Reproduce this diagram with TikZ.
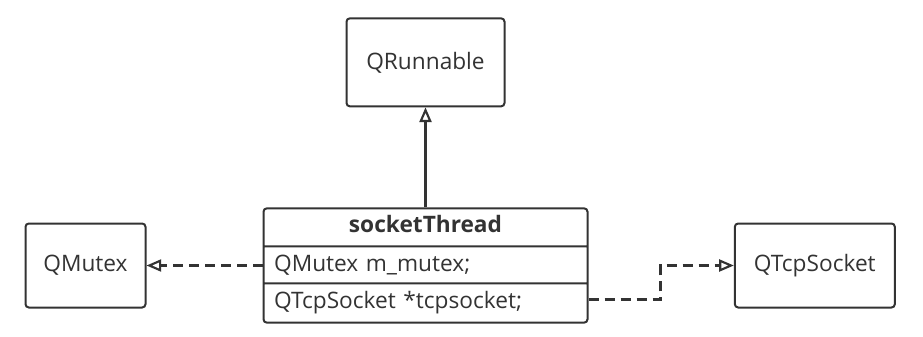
\documentclass[tikz,border=0pt]{standalone}
\usepackage{fontspec}
\setmainfont{Open Sans}
\usetikzlibrary{positioning, arrows.meta, shapes.multipart, calc}

\definecolor{umlgray}{HTML}{333333}

\tikzset{
  umlbox/.style={draw=umlgray, line width=1.5pt, rounded corners=2.5pt,
    text=umlgray, font=\fontsize{17}{20}\selectfont, align=center},
  umlclass/.style={umlbox, rectangle split, rectangle split parts=3,
    text width=227pt, align=left, inner xsep=8pt, inner ysep=5.5pt,
    text height=12pt, text depth=4pt},
  realize/.style={draw=umlgray, line width=1.6pt,
    -{Triangle[open, length=11pt, width=9pt]}},
  depend/.style={realize, dash pattern=on 7.5pt off 4.5pt}
}

\begin{document}
\begin{tikzpicture}[x=0.75pt, y=-0.75pt]
  \useasboundingbox (0,0) rectangle (923,336);

  \node[umlclass] (thread) at (425.5,265.5)
    {\hspace*{\fill}\textbf{socketThread}\hspace*{\fill}
     \nodepart{second} QMutex m\_mutex;
     \nodepart{third} QTcpSocket *tcpsocket;};
  \node[umlbox, minimum width=118.5pt, minimum height=66pt] (runnable) [above=75pt of thread] {QRunnable};
  \node[umlbox, minimum width=90pt, minimum height=63pt] (mutex) [left=87pt of thread] {QMutex};
  \node[umlbox, minimum width=120pt, minimum height=63pt] (socket) [right=109pt of thread] {QTcpSocket};

  % inheritance and the two uses
  \draw[realize] (thread.north) -- (thread.north |- runnable.south);
  \draw[depend] (thread.west) -- (mutex);
  \draw[depend] ($(thread.south east)!0.6!(thread.second split east)$)
    -- ++(54pt,0) |- (socket);
\end{tikzpicture}
\end{document}
